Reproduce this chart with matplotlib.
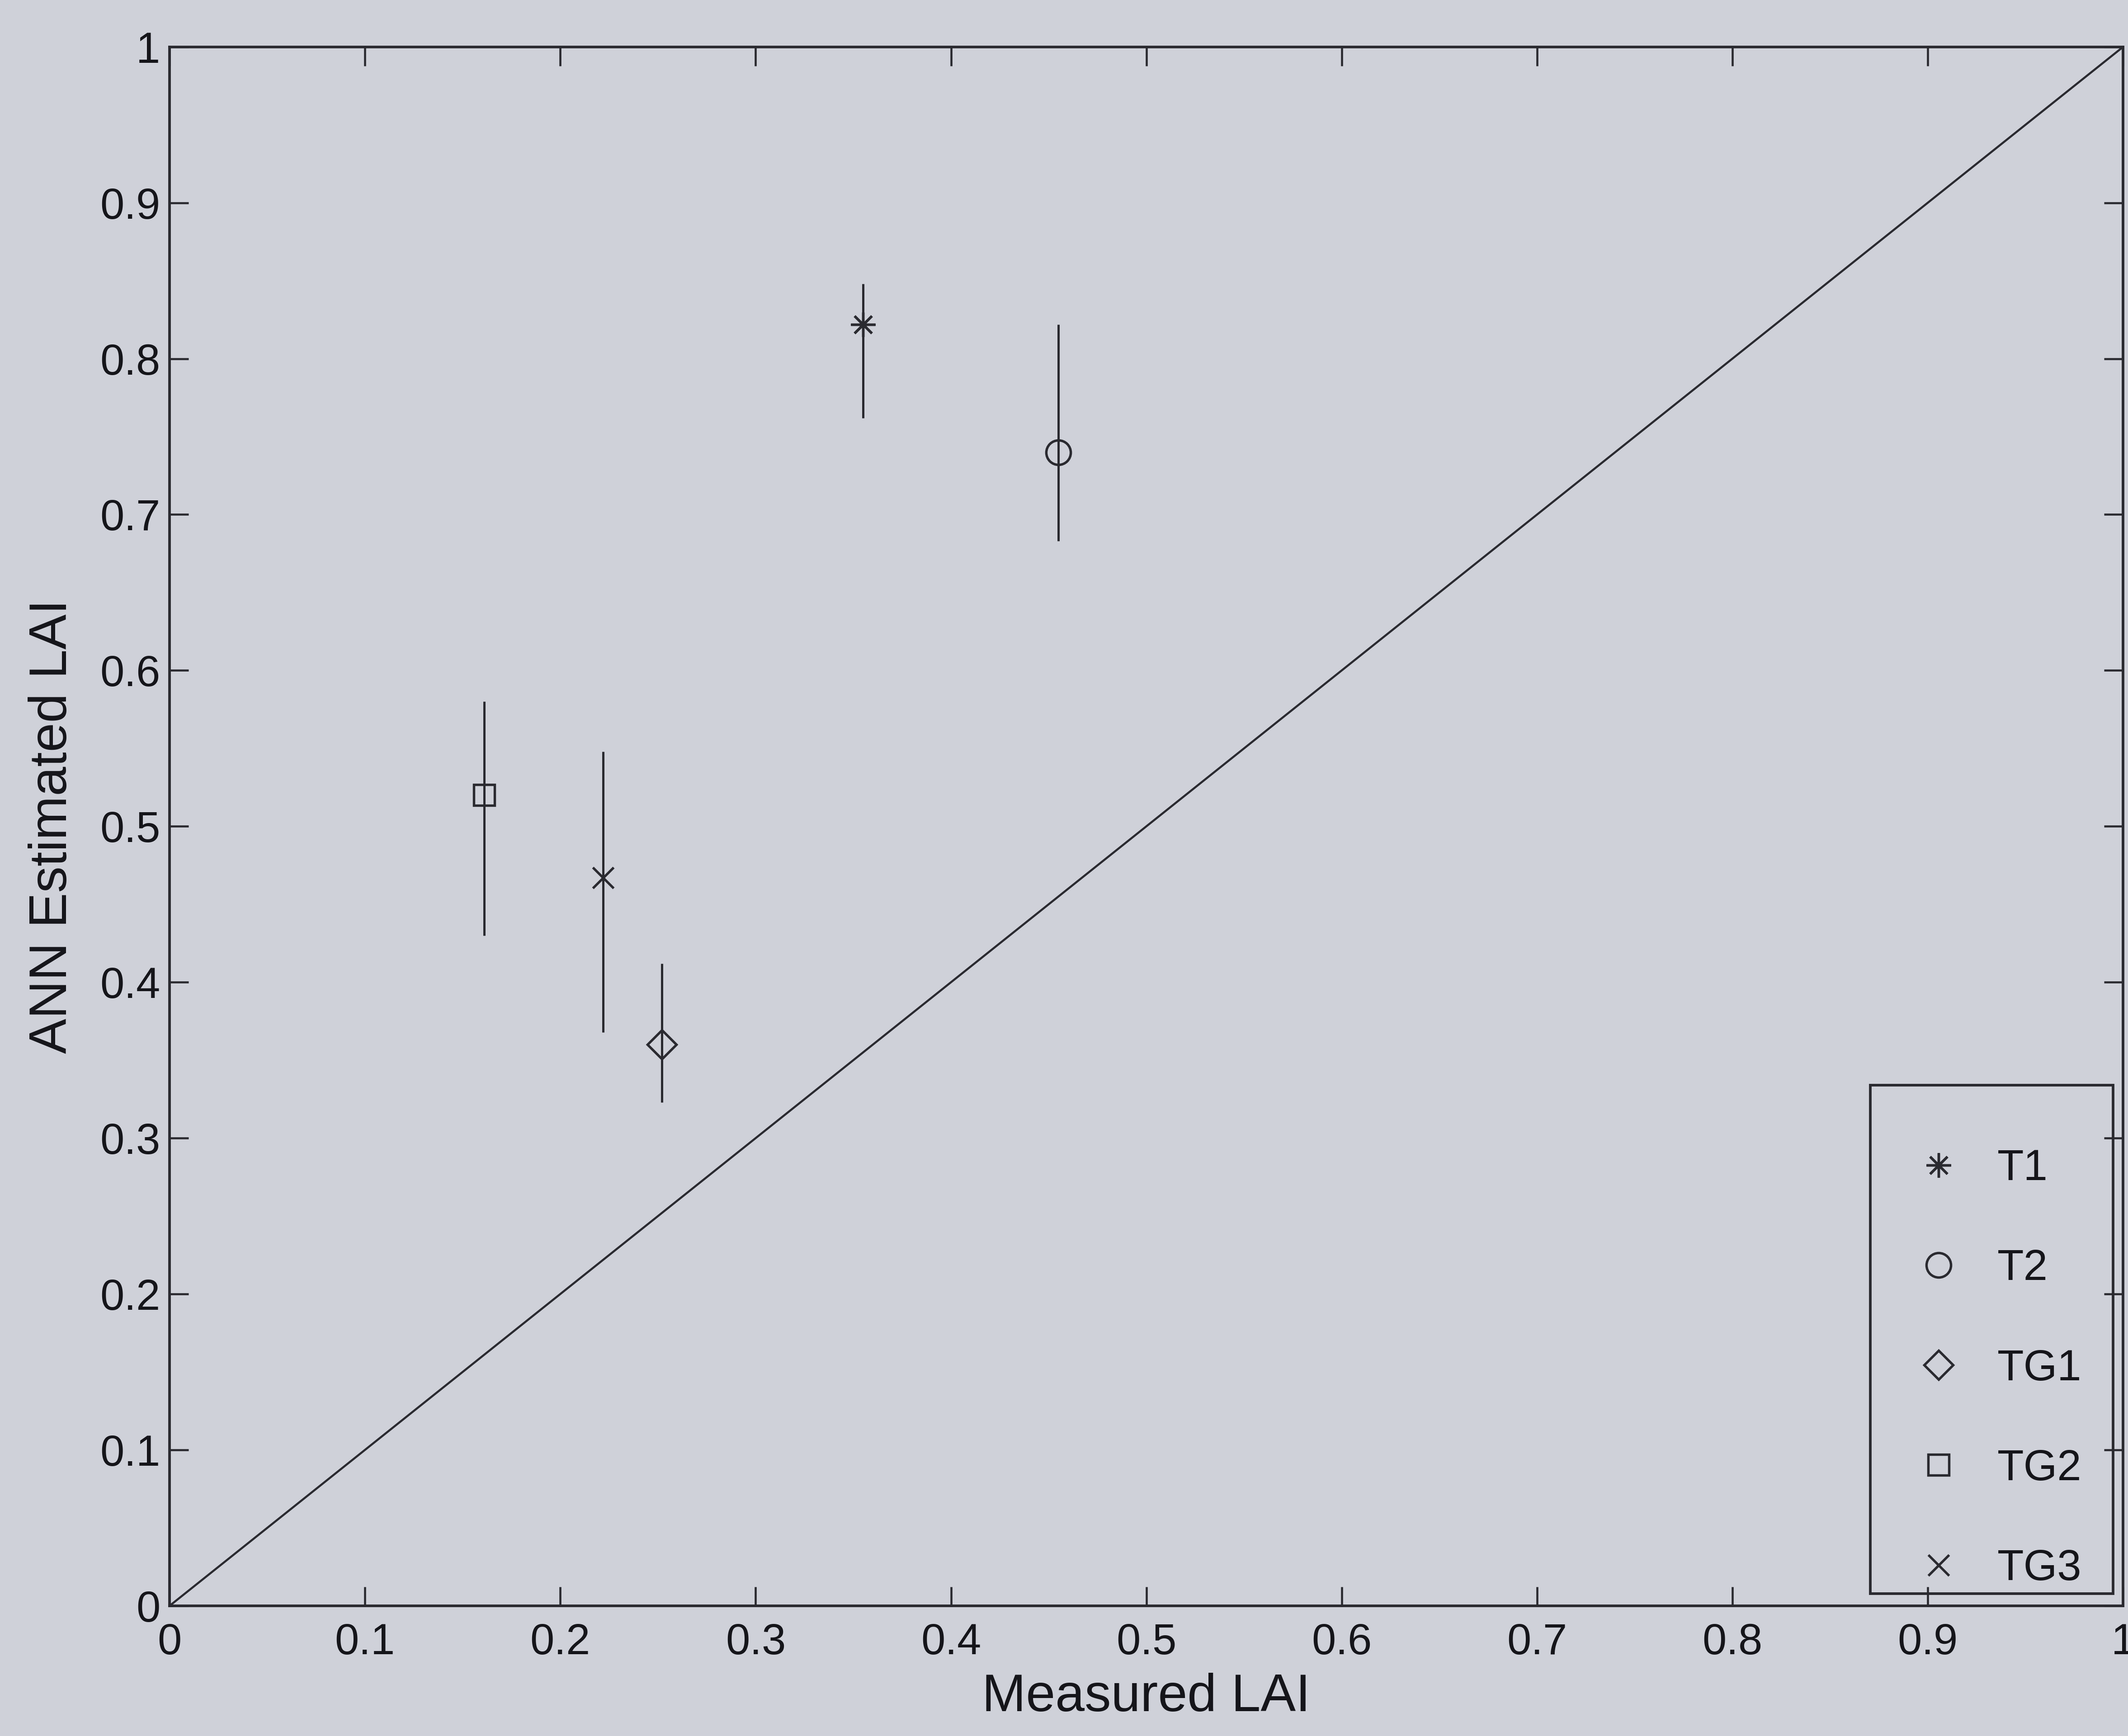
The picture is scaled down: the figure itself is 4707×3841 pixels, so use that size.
import matplotlib
matplotlib.use("Agg")
import matplotlib.pyplot as plt
from matplotlib.patches import Rectangle

# Site names and LAI values (measured vs. ANN estimate, with estimate range)
sites = ["T1", "T2", "TG1", "TG2", "TG3"]
measured_lai = [0.355, 0.455, 0.252, 0.161, 0.222]
estimated_lai = [0.822, 0.740, 0.360, 0.520, 0.467]
estimated_low = [0.762, 0.683, 0.323, 0.430, 0.368]
estimated_high = [0.848, 0.822, 0.412, 0.580, 0.548]
site_markers = [(8, 2, 0), "o", "D", "s", "x"]
site_msizes = [13, 13, 11, 11, 11]

tick_values = [0, 0.1, 0.2, 0.3, 0.4, 0.5, 0.6, 0.7, 0.8, 0.9, 1]
tick_labels = ["0", "0.1", "0.2", "0.3", "0.4", "0.5", "0.6", "0.7", "0.8", "0.9", "1"]

paper = "#cfd1d9"
ink = "#2a2a30"
text_ink = "#15151a"

plt.rcParams["font.family"] = ["Liberation Sans", "DejaVu Sans"]

fig = plt.figure(figsize=(4707 / 300, 3841 / 300), dpi=300, facecolor=paper)
ax = fig.add_axes([0.0797, 0.075, 0.918, 0.898])
ax.set_facecolor(paper)

# 1:1 reference line
ax.plot([0, 1], [0, 1], color=ink, lw=1.1, zorder=2)

handles = []
for name, x, y, lo, hi, m, ms in zip(sites, measured_lai, estimated_lai,
                                     estimated_low, estimated_high,
                                     site_markers, site_msizes):
    ax.errorbar([x], [y], yerr=[[y - lo], [hi - y]], fmt="none",
                ecolor=ink, elinewidth=1.2, capsize=0, zorder=3)
    h, = ax.plot([x], [y], linestyle="none", marker=m, markersize=ms,
                 markerfacecolor="none", markeredgecolor=ink,
                 markeredgewidth=1.3, label=name, zorder=4)
    handles.append(h)

ax.set_xlim(0, 1)
ax.set_ylim(0, 1)
ax.set_xticks(tick_values)
ax.set_xticklabels(tick_labels)
ax.set_yticks(tick_values)
ax.set_yticklabels(tick_labels)
ax.tick_params(direction="in", length=10, width=1.1, color=ink,
               labelsize=23, labelcolor=text_ink, top=True, right=True)
ax.tick_params(axis="x", pad=9)
ax.tick_params(axis="y", pad=5)
for s in ax.spines.values():
    s.set_color(ink)
    s.set_linewidth(1.4)

ax.set_xlabel("Measured LAI", fontsize=28, color=text_ink, labelpad=5)
ax.set_ylabel("ANN Estimated LAI", fontsize=28, color=text_ink, labelpad=12)

# Legend entries, with a plain box drawn around them
leg = ax.legend(handles=handles, loc="center",
                bbox_to_anchor=(0.9395, 0.2115), bbox_transform=fig.transFigure,
                fontsize=23, frameon=False, borderpad=0,
                labelspacing=1.37, handlelength=1.0, handletextpad=0.85,
                borderaxespad=0)
for t in leg.get_texts():
    t.set_color(text_ink)

fig.patches.append(Rectangle((0.8788, 0.0820), 0.9930 - 0.8788, 0.375 - 0.0820,
                             transform=fig.transFigure, facecolor="none",
                             edgecolor=ink, linewidth=1.4, zorder=5))

fig.savefig("out.png", dpi=300, facecolor=paper)
